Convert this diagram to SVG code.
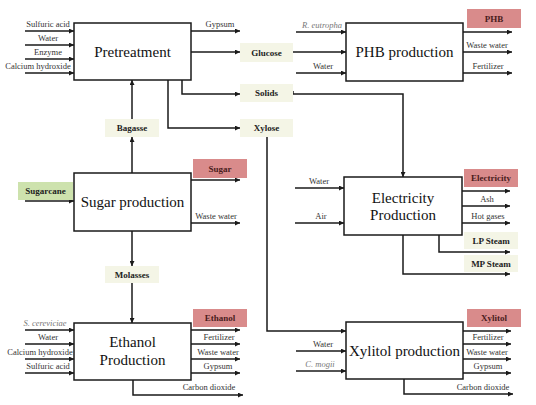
<svg xmlns="http://www.w3.org/2000/svg" width="536" height="405" viewBox="0 0 536 405">
<style>
.box{fill:#fff;stroke:#1a1a1a;stroke-width:1.5}
.lbl{fill:#f4f5e6}
.red{fill:#d98b8b}
.grn{fill:#cde2ad}
.ln{fill:none;stroke:#1a1a1a;stroke-width:1.5}
.ar{marker-end:url(#ah)}
text{font-family:"Liberation Serif","Times New Roman",serif}
.t{font-size:15px;fill:#111;text-anchor:middle}
.s{font-size:8.5px;fill:#333;text-anchor:middle}
.i{font-size:8.5px;fill:#777;font-style:italic;text-anchor:middle}
.b{font-size:9px;font-weight:bold;fill:#222;text-anchor:middle}
.br{font-size:9px;font-weight:bold;fill:#4a1c1c;text-anchor:middle}
</style>
<defs>
<marker id="ah" viewBox="0 0 10 10" refX="10" refY="5" markerWidth="6" markerHeight="5" orient="auto" markerUnits="userSpaceOnUse">
<path d="M0,0 L10,5 L0,10 z" fill="#1a1a1a"/>
</marker>
</defs>

<g id="connectors">
<!-- Pretreatment inputs -->
<path class="ln ar" d="M25,31H74"/>
<path class="ln ar" d="M25,45H74"/>
<path class="ln ar" d="M25,59H74"/>
<path class="ln ar" d="M25,73H74"/>
<!-- Pretreatment outputs -->
<path class="ln ar" d="M191,31H240"/>
<path class="ln ar" d="M191,52H240"/>
<path class="ln ar" d="M182,80V94H240"/>
<path class="ln ar" d="M168,80V128H240"/>
<!-- Glucose to PHB -->
<path class="ln ar" d="M293,52H346"/>
<!-- PHB inputs -->
<path class="ln ar" d="M296,32H346"/>
<path class="ln ar" d="M296,73H346"/>
<!-- PHB outputs -->
<path class="ln ar" d="M463,32H512"/>
<path class="ln ar" d="M463,52H512"/>
<path class="ln ar" d="M463,73H512"/>
<!-- Solids to Electricity -->
<path class="ln ar" d="M293,91V94H403V177"/>
<!-- Xylose to Xylitol -->
<path class="ln ar" d="M267,137V331H346"/>
<!-- Bagasse -->
<path class="ln ar" d="M132,173V137"/>
<path class="ln ar" d="M132,119V80"/>
<!-- Sugar production -->
<path class="ln ar" d="M25,201H74"/>
<path class="ln ar" d="M191,180H240"/>
<path class="ln ar" d="M191,223H240"/>
<path class="ln ar" d="M132,231V266"/>
<path class="ln ar" d="M132,283V323"/>
<!-- Electricity -->
<path class="ln ar" d="M295,188H344"/>
<path class="ln ar" d="M295,223H344"/>
<path class="ln ar" d="M462,191H510"/>
<path class="ln ar" d="M462,206H510"/>
<path class="ln ar" d="M462,223H510"/>
<path class="ln ar" d="M439,235V252H510"/>
<path class="ln ar" d="M403,235V274H510"/>
<!-- Ethanol -->
<path class="ln ar" d="M25,330H74"/>
<path class="ln ar" d="M25,344H74"/>
<path class="ln ar" d="M25,359H74"/>
<path class="ln ar" d="M25,373H74"/>
<path class="ln ar" d="M191,330H240"/>
<path class="ln ar" d="M191,344H240"/>
<path class="ln ar" d="M191,359H240"/>
<path class="ln ar" d="M191,373H240"/>
<path class="ln ar" d="M133,380V395H243"/>
<!-- Xylitol -->
<path class="ln ar" d="M296,351H346"/>
<path class="ln ar" d="M296,371H346"/>
<path class="ln ar" d="M463,331H511"/>
<path class="ln ar" d="M463,344H511"/>
<path class="ln ar" d="M463,359H511"/>
<path class="ln ar" d="M463,373H511"/>
<path class="ln ar" d="M404,379V394H513"/>
</g>

<g id="pretreatment">
<rect class="box" x="74" y="23" width="117" height="57"/>
<text class="t" x="132.5" y="57">Pretreatment</text>
<text class="s" x="48" y="27">Sulfuric acid</text>
<text class="s" x="48" y="41">Water</text>
<text class="s" x="48" y="55">Enzyme</text>
<text class="s" x="38" y="69">Calcium hydroxide</text>
<text class="s" x="220" y="27">Gypsum</text>
</g>

<g id="glucose"><rect class="lbl" x="240" y="43" width="53" height="19"/><text class="b" x="266.5" y="55.5">Glucose</text></g>
<g id="solids"><rect class="lbl" x="240" y="84" width="53" height="18"/><text class="b" x="266.5" y="96">Solids</text></g>
<g id="xylose"><rect class="lbl" x="240" y="119" width="53" height="18"/><text class="b" x="266.5" y="131">Xylose</text></g>
<g id="bagasse"><rect class="lbl" x="105" y="119" width="54" height="18"/><text class="b" x="132" y="131">Bagasse</text></g>
<g id="molasses"><rect class="lbl" x="105" y="266" width="54" height="17"/><text class="b" x="132" y="278">Molasses</text></g>
<g id="sugarcane"><rect class="grn" x="18" y="182" width="55" height="18"/><text class="b" x="45.5" y="194">Sugarcane</text></g>

<g id="phb-production">
<rect class="box" x="346" y="23" width="117" height="58"/>
<text class="t" x="404.5" y="57">PHB production</text>
<text class="i" x="322" y="28">R. eutropha</text>
<text class="s" x="323" y="69">Water</text>
<text class="s" x="487" y="48">Waste water</text>
<text class="s" x="488" y="69">Fertilizer</text>
</g>
<g id="phb"><rect class="red" x="467" y="9" width="54" height="19"/><text class="br" x="494" y="21.5">PHB</text></g>

<g id="sugar-production">
<rect class="box" x="74" y="173" width="117" height="58"/>
<text class="t" x="132.5" y="207">Sugar production</text>
<text class="s" x="216" y="219">Waste water</text>
</g>
<g id="sugar"><rect class="red" x="193" y="159" width="54" height="19"/><text class="br" x="220" y="171.5">Sugar</text></g>

<g id="electricity-production">
<rect class="box" x="344" y="177" width="118" height="58"/>
<text class="t" x="403" y="203">Electricity</text>
<text class="t" x="403" y="220">Production</text>
<text class="s" x="319" y="184">Water</text>
<text class="s" x="321" y="219">Air</text>
<text class="s" x="487" y="202">Ash</text>
<text class="s" x="488" y="219">Hot gases</text>
</g>
<g id="electricity"><rect class="red" x="464" y="169" width="54" height="18"/><text class="br" x="491" y="181">Electricity</text></g>
<g id="lp-steam"><rect class="lbl" x="464" y="232" width="54" height="17"/><text class="b" x="491" y="244">LP Steam</text></g>
<g id="mp-steam"><rect class="lbl" x="464" y="255" width="54" height="17"/><text class="b" x="491" y="267">MP Steam</text></g>

<g id="ethanol-production">
<rect class="box" x="74" y="323" width="117" height="57"/>
<text class="t" x="132.5" y="347">Ethanol</text>
<text class="t" x="132.5" y="365">Production</text>
<text class="i" x="45" y="326">S. cereviciae</text>
<text class="s" x="48" y="340">Water</text>
<text class="s" x="40" y="355">Calcium hydroxide</text>
<text class="s" x="48" y="369">Sulfuric acid</text>
<text class="s" x="219" y="340">Fertilizer</text>
<text class="s" x="218" y="355">Waste water</text>
<text class="s" x="218" y="369">Gypsum</text>
<text class="s" x="209" y="390">Carbon dioxide</text>
</g>
<g id="ethanol"><rect class="red" x="193" y="309" width="54" height="18"/><text class="br" x="220" y="321">Ethanol</text></g>

<g id="xylitol-production">
<rect class="box" x="346" y="322" width="117" height="57"/>
<text class="t" x="404.5" y="356">Xylitol production</text>
<text class="s" x="323" y="347">Water</text>
<text class="i" x="320" y="367">C. mogii</text>
<text class="s" x="488" y="340">Fertilizer</text>
<text class="s" x="487" y="355">Waste water</text>
<text class="s" x="488" y="369">Gypsum</text>
<text class="s" x="483" y="390">Carbon dioxide</text>
</g>
<g id="xylitol"><rect class="red" x="467" y="309" width="54" height="18"/><text class="br" x="494" y="321">Xylitol</text></g>
</svg>
